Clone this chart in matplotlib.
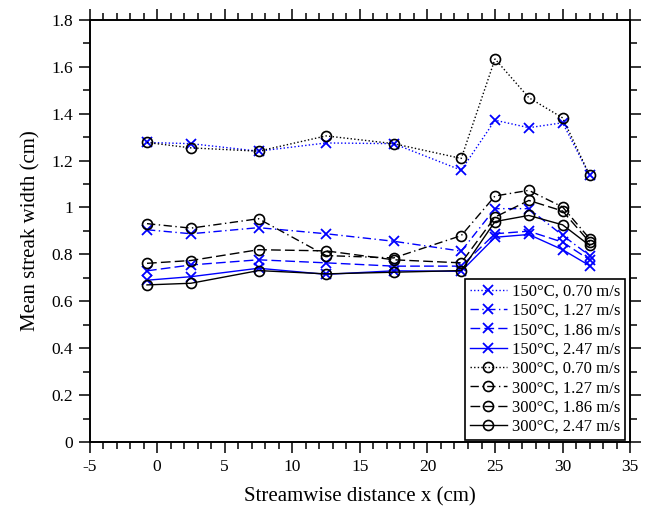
import matplotlib
matplotlib.use("Agg")
import matplotlib.pyplot as plt
from matplotlib.ticker import MultipleLocator, FormatStrFormatter

plt.rcParams['font.family'] = ['Liberation Serif', 'DejaVu Serif']
plt.rcParams['axes.unicode_minus'] = False

# streamwise positions of the measurement stations (cm)
x_pos = [-0.75, 2.5, 7.5, 12.5, 17.5, 22.5, 25, 27.5, 30, 32]

# mean streak width (cm), 150 °C wall
w150_070 = [1.277, 1.272, 1.24, 1.275, 1.272, 1.159, 1.372, 1.34, 1.361, 1.137]
w150_127 = [0.905, 0.888, 0.914, 0.888, 0.856, 0.814, 0.995, 0.995, 0.881, 0.795]
w150_186 = [0.73, 0.755, 0.777, 0.764, 0.75, 0.75, 0.888, 0.899, 0.852, 0.777]
w150_247 = [0.69, 0.705, 0.741, 0.715, 0.73, 0.728, 0.873, 0.885, 0.82, 0.752]

# mean streak width (cm), 300 °C wall
w300_070 = [1.277, 1.254, 1.24, 1.305, 1.272, 1.209, 1.633, 1.468, 1.382, 1.137]
w300_127 = [0.931, 0.912, 0.952, 0.795, 0.785, 0.88, 1.049, 1.073, 1.002, 0.867]
w300_186 = [0.762, 0.774, 0.82, 0.815, 0.777, 0.764, 0.959, 1.03, 0.985, 0.852]
w300_247 = [0.67, 0.677, 0.731, 0.717, 0.724, 0.731, 0.94, 0.966, 0.926, 0.838]

speeds = ['0.70', '1.27', '1.86', '2.47']
styles = [(0, (1, 1.6)), (0, (6, 2.5, 1, 2.5)), (0, (7, 3)), '-']

fig = plt.figure(figsize=(6.49, 5.07), dpi=100)
ax = fig.add_axes([0.138, 0.128, 0.833, 0.833])

for ys, sp, ls in zip([w150_070, w150_127, w150_186, w150_247], speeds, styles):
    ax.plot(x_pos, ys, color='#0000ff', ls=ls, lw=1.0, marker='x',
            ms=7.5, mew=1.3, label=f'150°C, {sp} m/s')
for ys, sp, ls in zip([w300_070, w300_127, w300_186, w300_247], speeds, styles):
    ax.plot(x_pos, ys, color='black', ls=ls, lw=1.0, marker='o',
            ms=7.2, mew=1.2, mfc='none', label=f'300°C, {sp} m/s')

ax.set_xlim(-5, 35)
ax.set_ylim(0, 1.8)
ax.xaxis.set_major_locator(MultipleLocator(5))
ax.xaxis.set_minor_locator(MultipleLocator(1))
ax.yaxis.set_major_locator(MultipleLocator(0.2))
ax.yaxis.set_minor_locator(MultipleLocator(0.1))
ax.yaxis.set_major_formatter(FormatStrFormatter('%g'))

for s in ax.spines.values():
    s.set_linewidth(1.4)
ax.tick_params(which='both', direction='out', top=True, right=True,
               width=1.1, labelsize=12.5, pad=4)
ax.tick_params(which='major', length=8)
ax.tick_params(which='minor', length=4.7)

ax.set_xlabel('Streamwise distance x (cm)', fontsize=15, labelpad=9)
ax.set_ylabel('Mean streak width (cm)', fontsize=15, labelpad=8)

leg = ax.legend(loc='lower right', bbox_to_anchor=(0.991, 0.005),
                borderaxespad=0, fontsize=12, fancybox=False, framealpha=1,
                edgecolor='black', labelspacing=0.2, handlelength=2.2,
                handletextpad=0.3, borderpad=0.3)
leg.get_frame().set_linewidth(1.2)

fig.savefig('out.png', dpi=100)
